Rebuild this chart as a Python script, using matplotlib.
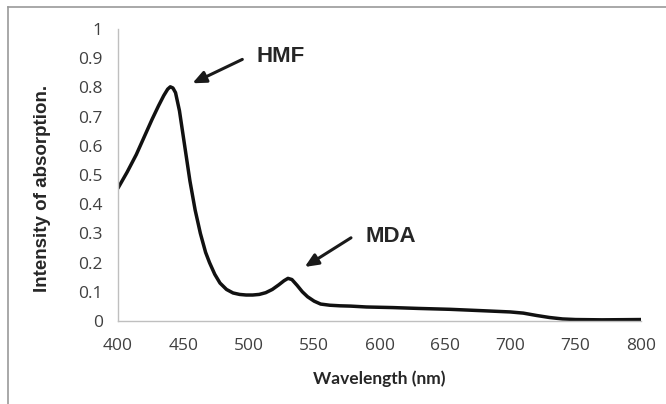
import matplotlib
matplotlib.use("Agg")
import matplotlib.pyplot as plt
from matplotlib.lines import Line2D

wavelength = [400, 407, 414, 420, 426, 431, 435, 438, 440, 442, 444, 447, 451, 455, 459, 463, 467, 470, 474, 478, 483, 488, 493, 498, 503, 508, 513, 518, 523, 527, 530, 533, 537, 541, 545, 550, 555, 562, 570, 578, 590, 610, 630, 654, 680, 700, 710, 720, 730, 740, 750, 770, 800]
absorb = [0.455, 0.51, 0.57, 0.63, 0.69, 0.737, 0.772, 0.794, 0.802, 0.798, 0.782, 0.72, 0.60, 0.48, 0.38, 0.30, 0.235, 0.20, 0.16, 0.13, 0.108, 0.096, 0.091, 0.089, 0.089, 0.091, 0.097, 0.108, 0.124, 0.138, 0.146, 0.142, 0.122, 0.10, 0.083, 0.068, 0.058, 0.054, 0.052, 0.051, 0.048, 0.046, 0.043, 0.040, 0.035, 0.031, 0.027, 0.019, 0.012, 0.007, 0.005, 0.004, 0.005]
xticks = [400, 450, 500, 550, 600, 650, 700, 750, 800]
yticks = [0, 0.1, 0.2, 0.3, 0.4, 0.5, 0.6, 0.7, 0.8, 0.9, 1]
ytick_labels = ["0", "0.1", "0.2", "0.3", "0.4", "0.5", "0.6", "0.7", "0.8", "0.9", "1"]

fig = plt.figure(figsize=(6.66, 4.04), dpi=100)
# outer chart border (top and left only visible)
fig.add_artist(Line2D([8/666, 1.0], [1 - 7/404, 1 - 7/404], transform=fig.transFigure, color="#9a9a9a", lw=1.2))
fig.add_artist(Line2D([8/666, 8/666], [0.0, 1 - 7/404], transform=fig.transFigure, color="#9a9a9a", lw=1.2))

ax = fig.add_axes([118/666, (404-321)/404, 523/666, 292/404])
ax.plot(wavelength, absorb, color="#111111", linewidth=2.5, solid_capstyle="round", solid_joinstyle="round")
ax.set_xlim(400, 800)
ax.set_ylim(0, 1)
ax.set_xticks(xticks)
ax.set_yticks(yticks)
ax.set_yticklabels(ytick_labels)
for s in ["top", "right"]:
    ax.spines[s].set_visible(False)
for s in ["left", "bottom"]:
    ax.spines[s].set_color("#bfbfbf")
    ax.spines[s].set_linewidth(1.0)
ax.tick_params(axis="x", length=0, labelsize=12.5, colors="#404040", pad=12)
ax.tick_params(axis="y", length=0, labelsize=12.5, colors="#404040", pad=11)
for lab in ax.get_xticklabels() + ax.get_yticklabels():
    lab.set_fontfamily("Open Sans")
ax.set_xlabel("Wavelength (nm)", fontsize=12.5, fontweight="bold", family="Lato", color="#262626", labelpad=12)
ax.set_ylabel("Intensity of absorption.", fontsize=13.5, fontweight="bold", family="Liberation Sans", color="#262626")
ax.yaxis.set_label_coords(-0.128, 0.455)

ax.annotate("", xy=(455, 0.81), xytext=(497, 0.90),
            arrowprops=dict(arrowstyle="-|>,head_length=0.8,head_width=0.35", color="#1a1a1a", lw=2.2))
ax.text(506, 0.905, "HMF", fontsize=16, fontweight="bold", family="Liberation Sans", color="#262626", va="center")
ax.annotate("", xy=(541, 0.18), xytext=(580, 0.29),
            arrowprops=dict(arrowstyle="-|>,head_length=0.8,head_width=0.35", color="#1a1a1a", lw=2.2))
ax.text(589, 0.29, "MDA", fontsize=16, fontweight="bold", family="Liberation Sans", color="#262626", va="center")

fig.savefig("out.png", dpi=100)
